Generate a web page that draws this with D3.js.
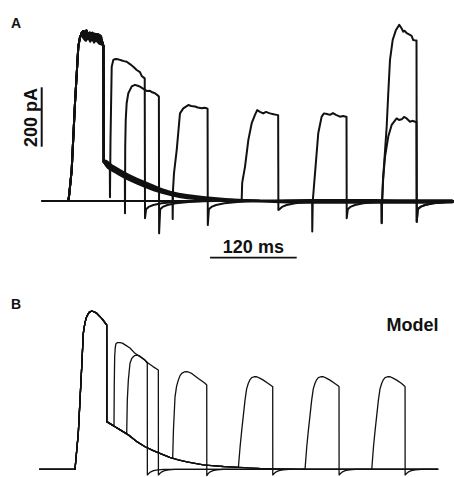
<!DOCTYPE html>
<html>
<head>
<meta charset="utf-8">
<script src="https://cdn.jsdelivr.net/npm/d3@7"></script>
<style>
  body { margin: 0; background: #fff; }
  svg { display: block; }
  text { font-family: "Liberation Sans", Arial, Helvetica, sans-serif; fill: #111; }
</style>
</head>
<body>
<div id="chart"></div>
<script>
// ---- panel A : recorded currents, [ms, pA] ----
var pulse1A = [[0,0],[36.8,0],[38,20],[41.5,104],[46.1,330],[50.7,520],[53,552],[55.4,565],[57.5,572],[59.9,568],[62,574],[64.1,561],[66,566],[68.2,562],[70,566],[72,558],[73.8,560],[76,553],[79.3,552],[82,545],[83.9,535],[85.5,522],[85.8,131]];
// spread of the overlaid sweeps on top of pulse 1 : [ms, high, low]
var bandPulse1A = [[53,566,556],[55.8,572,549],[58.5,574,540],[61.3,572,535],[64.1,569,542],[66.9,571,532],[69.6,569,538],[72.4,567,529],[75.2,566,535],[77.9,566,529],[80.7,562,525],[83.5,556,522],[84.9,542,519]];
var tailA = [[89,124],[96.9,115.5],[108.4,97.6],[119.9,81.8],[131,66],[143,53.9],[154,44],[166.1,34.7],[177,27],[189.1,20.2],[200,16],[212.2,12.5],[224,9],[235.3,5.7],[250,4.5],[267.5,3.4],[285,2],[302,0.7],[340,0]];
// spread of the overlaid tails / baselines : [ms, high, low]
var bandTailA = [[86,140,125],[87.6,140,118],[100,120,95],[119.9,93,68],[143,67,44],[166.1,44,24],[190,28,10],[212.2,20,3],[235,14,0],[258.3,9,-2],[302,5,-5],[340,6,-8],[400,7,-9],[460,7,-9],[520,6,-9],[569,6,-8]];
var testsA = [
  [[94.3,117],[94.5,13],[95.2,200],[96.9,452],[99.1,475],[102,478],[106,477],[111.1,473],[114,471],[117.6,469],[122.2,461],[126.8,452],[131.5,441],[136,434],[138.4,421],[142.6,413],[143,-58]],
  [[115.1,86],[115.3,-41],[115.6,180],[116.3,273],[117.6,329],[119.9,363],[124.6,386],[129.1,391],[133,388],[136,385],[143,374],[146,370],[149.9,371],[153,366],[156.8,363],[161.4,354],[162.2,352],[162.5,-109]],
  [[181.1,25],[181.3,-61],[181.8,40],[183.1,93],[186.9,172],[191.4,295],[196,312],[202.9,323],[207,320],[212.2,318],[216,315],[221.5,312],[225,314],[228.4,312],[229.6,310],[229.9,-81]],
  [[276.8,3],[277.5,60],[278.2,71],[281.4,115],[286,205],[290.7,262],[295.2,290],[298.3,306],[302.1,300],[306.7,295],[310.4,300],[316,295],[321,292],[325.3,290],[327.3,289],[327.6,-30]],
  [[374.3,1],[374.5,-103],[375.2,0],[378.3,93],[382.8,228],[387.5,284],[390.7,295],[394.9,293],[399,290],[403.2,296],[407.3,290],[412.9,284],[417,286],[421.2,284],[421.9,283],[422.2,-58]],
  [[470.4,0],[470.6,-75],[471.2,0],[472.4,71],[475.2,149],[479.7,217],[484.4,256],[491.3,278],[494.5,273],[498.3,275],[501.5,283],[505.2,278],[509.8,267],[513,270],[516.7,267],[518.8,267],[519.1,-70]]
];
var controlA = [[470.4,0],[470.6,-74],[471.2,0],[472.8,82],[477.5,250],[479.7,363],[482.1,475],[485.8,542],[490.4,576],[494.9,593],[498.3,581],[500.5,570],[502.5,573],[505.2,565],[509.8,559],[512,556],[514.3,542],[518,540],[518.8,540],[519.1,-70]];
var recoveryA = [[1.5,-28],[5,-20],[11.5,-13.5],[23,-7.7],[41,-3.4],[62,-1],[80,0]];

// ---- panel B : model, [ms, pA] ----
var pulse1B = [[-15,0],[37,0],[41.8,128],[46.8,364],[49.1,482],[51.5,520],[54,541],[57.5,556],[61.3,561],[65,558],[68.6,553],[75.9,535],[82.2,515],[83.1,512],[83.2,169]];
var tailB = [[88,162],[95.3,151],[104,138],[114.7,122],[126,100],[139,80],[151,66],[163.3,54],[175,42],[187.5,33],[200,26],[211.8,21],[224,16],[236.2,13],[253,10],[270,8],[290,5],[306,3],[335,1],[364,0]];
var testsB = [
  [[93.8,153],[94.2,300],[94.8,400],[95.6,430],[96.7,446],[99,449],[102.6,449],[106,447],[110,441],[117.1,430],[124.4,411],[131.7,399],[139,387],[141.5,378],[142.3,376],[142.4,-20]],
  [[112.3,125],[113.2,246],[114.7,316],[117.1,376],[119.5,392],[121.9,399],[124,403],[126.9,405],[129,404],[131.7,401],[137,391],[143.8,376],[150.6,364],[158.4,352],[158.5,-20]],
  [[179.3,39],[180.4,139],[182.7,257],[185,295],[187.5,316],[190,332],[192.5,340],[196,345],[199.7,346],[203,344],[207.5,339],[216.6,322],[226.4,305],[228.9,299],[229,-22]],
  [[275,7],[277.5,80],[279.9,139],[284.7,246],[287,285],[289.5,305],[292,318],[294.4,325],[298,328],[301.7,328],[306,323],[311.3,316],[318,305],[323.6,295],[325,293],[325.1,-20]],
  [[372.1,1],[374.6,80],[377,139],[381.8,246],[384.1,285],[386.6,305],[389.1,318],[391.5,325],[395.1,328],[398.8,328],[403.1,323],[408.4,316],[415.1,305],[420.7,295],[421.6,293],[421.7,-20]],
  [[469.3,0],[471.8,80],[474.2,139],[479,246],[481.3,285],[483.8,305],[486.3,318],[488.7,325],[492.3,328],[496,328],[500.3,323],[505.6,316],[512.3,305],[516.5,296],[517.8,293],[517.9,-20]]
];
var recoveryB = [[2,-15],[5,-9],[9,-5],[15,-2],[24,0]];

var panelLabels = ['A', 'B'];
var scaleBar = { pA: 200, ms: 120 };
var scaleLabels = ['200 pA', '120 ms'];
var modelLabel = 'Model';

(function () {
  'use strict';

  var width = 454, height = 477;

  var svg = d3.select('#chart').append('svg')
    .attr('width', width)
    .attr('height', height);

  svg.append('rect')
    .attr('width', width)
    .attr('height', height)
    .attr('fill', '#fff');

  var xA = d3.scaleLinear().domain([0, 570]).range([41.7, 453.5]),
      yA = d3.scaleLinear().domain([0, 600]).range([201, 22.8]),
      xB = d3.scaleLinear().domain([0, 570]).range([49.6, 440.9]),
      yB = d3.scaleLinear().domain([0, 600]).range([469.3, 300.0]);

  // one sweep: pulse 1, tail up to the test onset, test pulse, recovery
  function buildTrace(pulse, tail, test, rec, tEnd) {
    var on = test[0][0],
        off = test[test.length - 1][0],
        pts = pulse.slice();
    tail.forEach(function (d) {
      if (d[0] < on) { pts.push(d); }
    });
    test.forEach(function (d) { pts.push(d); });
    rec.forEach(function (d) { pts.push([off + d[0], d[1]]); });
    pts.push([tEnd, 0]);
    return pts;
  }

  function drawPanel(g, x, y, traces, bands, lineWidth) {
    var line = d3.line()
      .x(function (d) { return x(d[0]); })
      .y(function (d) { return y(d[1]); });

    var area = d3.area()
      .x(function (d) { return x(d[0]); })
      .y0(function (d) { return y(d[2]); })
      .y1(function (d) { return y(d[1]); })
      .curve(d3.curveMonotoneX);

    g.selectAll('.band')
      .data(bands)
      .enter()
      .append('path')
      .attr('class', 'band')
      .attr('d', area)
      .attr('fill', '#111');

    g.selectAll('.trace')
      .data(traces)
      .enter()
      .append('path')
      .attr('class', 'trace')
      .attr('d', line)
      .attr('fill', 'none')
      .attr('stroke', '#111')
      .attr('stroke-width', lineWidth)
      .attr('stroke-linejoin', 'round');
  }

  // panel A
  var tracesA = testsA.map(function (t) {
    return buildTrace(pulse1A, tailA, t, recoveryA, 570);
  });
  tracesA.push([[0, 0]].concat(controlA,
    recoveryA.map(function (d) { return [controlA[controlA.length - 1][0] + d[0], d[1]]; }),
    [[570, 0]]));

  var gA = svg.append('g').attr('class', 'panel-a');
  drawPanel(gA, xA, yA, tracesA, [bandPulse1A, bandTailA], 2);

  // panel B
  var tracesB = testsB.map(function (t) {
    return buildTrace(pulse1B, tailB, t, recoveryB, 566);
  });
  var gB = svg.append('g').attr('class', 'panel-b');
  drawPanel(gB, xB, yB, tracesB, [], 1.3);

  // scale bars
  var barX = xA(0), barBottom = 146.7,
      barLen = yA(0) - yA(scaleBar.pA);
  svg.append('line')
    .attr('x1', barX).attr('x2', barX)
    .attr('y1', barBottom).attr('y2', barBottom - barLen)
    .attr('stroke', '#111')
    .attr('stroke-width', 2);

  svg.append('text')
    .attr('transform', 'translate(36.5,' + (barBottom - barLen / 2 + 0.5) + ') rotate(-90)')
    .attr('text-anchor', 'middle')
    .attr('font-size', 18)
    .attr('font-weight', 'bold')
    .text(scaleLabels[0]);

  var t0 = 233, barY = 257.7;
  svg.append('line')
    .attr('x1', xA(t0)).attr('x2', xA(t0 + scaleBar.ms))
    .attr('y1', barY).attr('y2', barY)
    .attr('stroke', '#111')
    .attr('stroke-width', 1.8);

  svg.append('text')
    .attr('x', xA(t0 + scaleBar.ms / 2))
    .attr('y', 252.5)
    .attr('text-anchor', 'middle')
    .attr('font-size', 18)
    .attr('font-weight', 'bold')
    .text(scaleLabels[1]);

  // labels
  svg.selectAll('.panel-label')
    .data(panelLabels)
    .enter()
    .append('text')
    .attr('class', 'panel-label')
    .attr('x', 11)
    .attr('y', function (d, i) { return i === 0 ? 27.5 : 308.5; })
    .attr('font-size', 14)
    .attr('font-weight', 'bold')
    .text(function (d) { return d; });

  svg.append('text')
    .attr('x', 386.5)
    .attr('y', 331)
    .attr('font-size', 18)
    .attr('font-weight', 'bold')
    .text(modelLabel);
}());
</script>
</body>
</html>
